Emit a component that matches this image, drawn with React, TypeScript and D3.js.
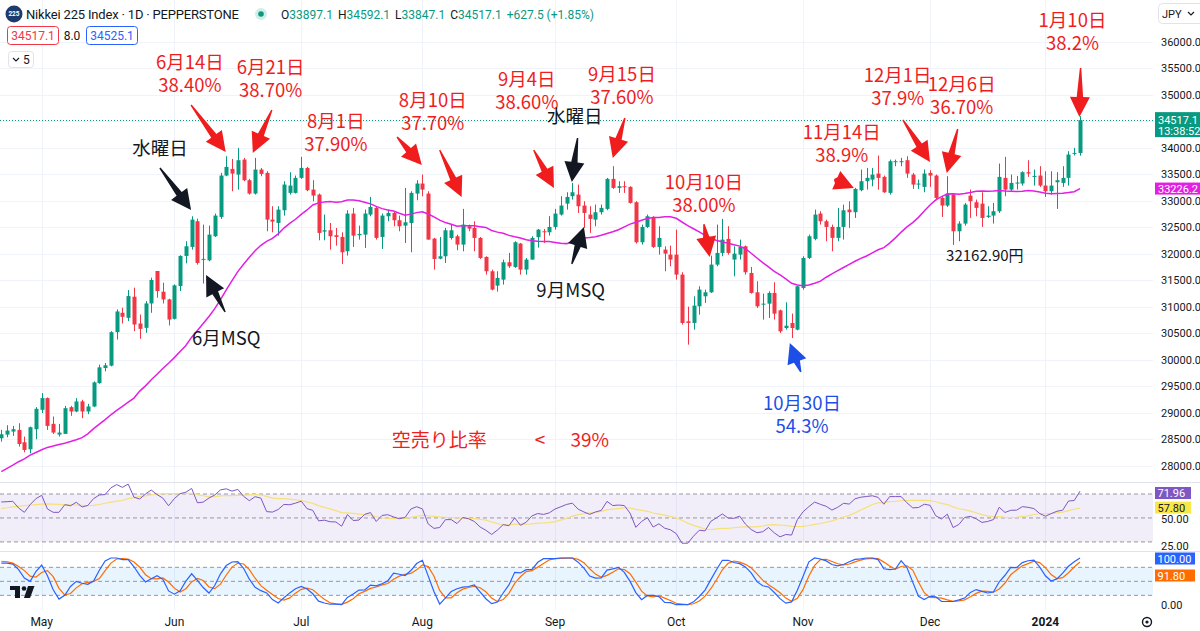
import React, { useRef, useEffect } from 'react';
import * as d3 from 'd3';

// Nikkei 225 CFD, daily bars 2023-04-20 .. 2024-01-10
const opens = [
  28517, 28587, 28644, 28675, 28442, 28309, 28688, 29054, 29275, 28789,
  28587, 28600, 29104, 29022, 29212, 29022, 29117, 29558, 29842, 29887,
  30518, 30884, 30789, 31187, 30682, 30600, 31060, 31672, 31281, 31136,
  30770, 31389, 31956, 32126, 32610, 31887, 31874, 32327, 32692, 33472,
  33597, 33490, 33773, 33384, 33132, 33585, 33522, 32641, 32578, 32818,
  33145, 33145, 33428, 33616, 33207, 33113, 32415, 32440, 32346, 32314,
  32044, 32755, 32346, 32358, 32736, 32862, 32314, 32704, 32767, 32629,
  32528, 32578, 33132, 33321, 33132, 32283, 31905, 31950, 32295, 32327,
  32170, 32515, 32484, 32296, 31937, 31667, 31396, 31509, 31837, 31748,
  32189, 31698, 31887, 32310, 32421, 32403, 32503, 32736, 32943, 33082,
  33113, 32906, 32736, 32641, 32780, 32843, 33409, 33239, 33270, 33258,
  32969, 32214, 32503, 32692, 32126, 32075, 31981, 31981, 31604, 30723,
  30692, 31006, 31195, 31270, 31792, 32013, 32277, 31887, 31981, 32138,
  31635, 31270, 31038, 31056, 31258, 30930, 30597, 30691, 30566, 31352,
  31918, 32277, 32755, 32610, 32503, 32296, 32503, 32830, 32780, 33195,
  33365, 33396, 33509, 33447, 33145, 33723, 33723, 33761, 33491, 33302,
  33258, 33522, 33472, 33050, 32906, 33113, 32421, 32566, 33094, 32969,
  32943, 32692, 32717, 32799, 33428, 33207, 33321, 33321, 33535, 33447,
  33472, 33283, 33176, 33346, 33333, 33428, 33887, 33897.1,
];
const highs = [
  28675, 28763, 28751, 28801, 28549, 28738, 29104, 29369, 29287, 28928,
  28789, 29129, 29129, 29275, 29243, 29167, 29590, 29906, 29937, 30537,
  30947, 30979, 31313, 31357, 30852, 31104, 31546, 31672, 31451, 31149,
  31420, 31969, 32233, 32704, 32660, 32547, 32528, 32755, 33522, 33836,
  33786, 33994, 33805, 33409, 33805, 33616, 33553, 32893, 32893, 33365,
  33534, 33472, 33824, 33635, 33384, 33132, 32736, 32578, 32484, 32402,
  32818, 32862, 32528, 32830, 33069, 32893, 32755, 32830, 32799, 32717,
  33239, 33176, 33384, 33491, 33176, 32296, 32314, 32484, 32547, 32358,
  32843, 32547, 32610, 32314, 31950, 31698, 31667, 31887, 32013, 32233,
  32201, 31918, 32327, 32465, 32465, 32705, 32843, 33082, 33157, 33333,
  33302, 32987, 32893, 32925, 32925, 33428, 33648, 33365, 33365, 33270,
  32987, 32547, 32736, 32704, 32516, 32138, 32150, 32452, 31648, 31000,
  31195, 31384, 31320, 31962, 32547, 32654, 32516, 32138, 32264, 32151,
  31748, 31478, 31245, 31289, 31459, 30943, 31082, 30868, 31396, 31950,
  32358, 32830, 32799, 32641, 32547, 32862, 32924, 32987, 33239, 33585,
  33616, 33616, 33849, 33472, 33773, 33773, 33805, 33836, 33522, 33396,
  33585, 33572, 33491, 33082, 33459, 33132, 32610, 32956, 33207, 33019,
  33157, 32893, 32956, 33698, 33824, 33491, 33465, 33553, 33761, 33585,
  33648, 33553, 33553, 33535, 33648, 33931, 33994, 34592.1,
];
const lows = [
  28454, 28536, 28562, 28360, 28252, 28233, 28498, 28991, 28675, 28600,
  28549, 28600, 28940, 29010, 28896, 28972, 29104, 29546, 29779, 29874,
  30379, 30682, 30726, 30537, 30392, 30505, 30884, 31168, 31060, 30644,
  30757, 31294, 31817, 32075, 31792, 31434, 31855, 32314, 32654, 33459,
  33176, 33207, 33365, 33113, 33113, 33459, 32421, 32402, 32339, 32717,
  33113, 33132, 33409, 33176, 32987, 32251, 32251, 32075, 32150, 31805,
  31962, 32126, 32264, 32107, 32704, 32264, 32088, 32610, 32515, 32421,
  32201, 32025, 33006, 33082, 32264, 31698, 31893, 31824, 32264, 32063,
  32044, 32421, 32044, 31899, 31604, 31308, 31283, 31415, 31730, 31730,
  31604, 31604, 31887, 32113, 32201, 32340, 32453, 32717, 32830, 33019,
  32767, 32484, 32390, 32515, 32736, 32818, 33220, 33145, 33145, 32943,
  32189, 32170, 32484, 32107, 31981, 31667, 31761, 31509, 30661, 30283,
  30566, 30849, 31069, 31258, 31761, 31950, 31981, 31572, 31887, 31604,
  31245, 30975, 30755, 30786, 30755, 30503, 30566, 30408, 30553, 31320,
  31899, 32251, 32547, 32233, 32044, 32233, 32264, 32484, 32673, 33176,
  33207, 33270, 33207, 33145, 33113, 33648, 33648, 33428, 33220, 33220,
  33157, 33258, 33006, 32692, 32880, 32163, 32233, 32528, 32673, 32704,
  32503, 32673, 32566, 32767, 33082, 33176, 33207, 33283, 33447, 33283,
  33258, 33069, 33113, 32843, 33258, 33283, 33849, 33847.1,
];
const closes = [
  28593, 28663, 28688, 28410, 28297, 28726, 29073, 29275, 28751, 28625,
  28625, 29085, 29022, 29212, 29022, 29117, 29571, 29855, 29893, 30518,
  30909, 30808, 31199, 30663, 30581, 31060, 31502, 31294, 31136, 30757,
  31401, 31956, 32138, 32641, 31824, 31900, 32358, 32717, 33472, 33635,
  33509, 33761, 33384, 33132, 33585, 33503, 32641, 32604, 32830, 33302,
  33283, 33428, 33616, 33195, 33094, 32390, 32440, 32327, 32314, 32025,
  32755, 32339, 32371, 32755, 32880, 32296, 32717, 32767, 32629, 32515,
  32591, 33145, 33321, 33207, 32264, 31899, 31950, 32440, 32440, 32170,
  32547, 32471, 32296, 31918, 31667, 31321, 31541, 31837, 31761, 32214,
  31698, 31887, 32296, 32452, 32402, 32503, 32755, 32906, 33069, 33157,
  32893, 32767, 32654, 32780, 32862, 33409, 33239, 33270, 33252, 32956,
  32214, 32503, 32704, 32126, 32296, 32000, 31887, 31604, 30692, 30692,
  31019, 31321, 31270, 31792, 32013, 32264, 32013, 32000, 32126, 31648,
  31258, 31006, 31056, 31258, 30868, 30534, 30641, 30597, 31383, 31918,
  32327, 32736, 32610, 32503, 32296, 32503, 32817, 32780, 33220, 33365,
  33428, 33490, 33428, 33157, 33742, 33742, 33742, 33509, 33302, 33321,
  33510, 33472, 33050, 32906, 33132, 32421, 32566, 32925, 32987, 32862,
  32673, 32717, 32799, 33447, 33207, 33333, 33340, 33535, 33510, 33465,
  33283, 33176, 33283, 33384, 33428, 33868, 33899, 34517.1,
];

// indicator values for the first bars, before enough history exists
const maLead = [
  27890, 27950, 28010, 28075, 28130, 28200, 28250, 28300, 28345, 28370, 28400, 28425,
  28455, 28490, 28530, 28600, 28700, 28785, 28870, 28960, 29045, 29120, 29200, 29275,
];
const rsiLead = [63.3, 63.6, 63.9, 58.3, 54.7, 61.1, 66.1, 68.9, 57.5, 54.7, 54.7, 61.1, 60.2, 63.1];
const rsiMaLead = [57.8, 58.5, 59.2, 59.8, 60.3, 60.8, 61.2, 61.6, 61.7, 61.6, 61.4, 61.2, 61.0];
const kLead = [89, 89, 87, 75, 57, 50, 71, 85, 62, 32, 12, 20, 39, 50, 46];
const dLead = [93, 92, 89, 82, 73, 61, 59, 69, 73, 60, 35, 21, 24, 36, 45, 48, 50];

// readouts shown in the legend / on the scales
const dayChange = '+627.5 (+1.85%)';
const spread = '8.0';
const askPrice = '34525.1';
const lastMa = '33226.2';
const rsiReadouts = ['71.96', '57.80'];
const stochReadouts = ['100.00', '91.80'];
const countdown = '13:38:52';

const priceTicks = d3.range(28000, 36001, 500);
const monthNames = ['Jan', 'Feb', 'Mar', 'Apr', 'May', 'Jun', 'Jul', 'Aug', 'Sep', 'Oct', 'Nov', 'Dec'];
const closedDays = ['2023-12-25', '2024-01-01'];

const RED = '#ef1d1d';
const BLUE = '#1d4ee8';
const INK = '#131722';

// callouts anchored in chart space: [bar index, price]
const notes = [
  { lines: ['6月14日', '38.40%'], color: RED, at: [32.7, 35613] },
  { lines: ['6月21日', '38.70%'], color: RED, at: [46.7, 35519] },
  { lines: ['水曜日'], color: INK, at: [27.5, 33991] },
  { lines: ['6月MSQ'], color: INK, at: [39.0, 30408] },
  { lines: ['8月1日', '37.90%'], color: RED, at: [58.0, 34482] },
  { lines: ['8月10日', '37.70%'], color: RED, at: [74.8, 34878] },
  { lines: ['9月4日', '38.60%'], color: RED, at: [91.1, 35274] },
  { lines: ['9月15日', '37.60%'], color: RED, at: [107.6, 35387] },
  { lines: ['水曜日'], color: INK, at: [99.4, 34595] },
  { lines: ['9月MSQ'], color: INK, at: [98.7, 31295] },
  { lines: ['10月10日', '38.00%'], color: RED, at: [121.8, 33350] },
  { lines: ['11月14日', '38.9%'], color: RED, at: [145.7, 34293] },
  { lines: ['12月1日', '37.9%'], color: RED, at: [155.4, 35368] },
  { lines: ['12月6日', '36.70%'], color: RED, at: [166.5, 35198] },
  { lines: ['1月10日', '38.2%'], color: RED, at: [185.7, 36405] },
  { lines: ['10月30日', '54.3%'], color: BLUE, at: [138.8, 29182] },
];
const lowNote = { text: '32162.90円', at: [170.5, 31955] };
const ratioNote = { parts: ['空売り比率', '<', '39%'], at: [67.7, 28484] };

const arrows = [
  { color: RED, from: [32.9, 34802], to: [38.9, 33916] },
  { color: RED, from: [46.9, 34708], to: [43.6, 33897] },
  { color: INK, from: [27.5, 33614], to: [32.9, 32822] },
  { color: INK, from: [38.8, 30898], to: [35.5, 31596] },
  { color: RED, from: [68.6, 34200], to: [72.9, 33671] },
  { color: RED, from: [76.0, 33954], to: [79.8, 33067] },
  { color: RED, from: [92.3, 33954], to: [95.8, 33237] },
  { color: INK, from: [99.9, 34180], to: [98.9, 33350] },
  { color: RED, from: [108.1, 34557], to: [106.0, 33803] },
  { color: INK, from: [98.9, 31804], to: [101.0, 32502] },
  { color: RED, from: [121.8, 32558], to: [122.8, 31936] },
  { color: RED, from: [144.4, 33400], to: [147.8, 33237] },
  { color: RED, from: [156.3, 34520], to: [161.0, 33727] },
  { color: RED, from: [165.8, 34350], to: [163.9, 33520] },
  { color: RED, from: [187.1, 35500], to: [186.9, 34576] },
  { color: BLUE, from: [138.6, 29767], to: [136.7, 30314] },
];

const GREEN = '#089981';
const DOWN = '#f23645';
const MAGENTA = '#e31fe3';
const UI_FONT = 'Roboto, "Noto Sans", sans-serif';
const JP_FONT = '"Noto Sans CJK JP", "Noto Sans", sans-serif';

function tradingDays(start: Date, count: number) {
  const out: Date[] = [];
  const d = new Date(start);
  while (out.length < count) {
    const key = d3.timeFormat('%Y-%m-%d')(d);
    if (d.getDay() !== 0 && d.getDay() !== 6 && !closedDays.includes(key)) out.push(new Date(d));
    d.setDate(d.getDate() + 1);
  }
  return out;
}

function sma(vals: number[], n: number, i: number) {
  return d3.mean(vals.slice(i - n + 1, i + 1)) as number;
}

function arrowPoints(x1: number, y1: number, x2: number, y2: number) {
  const dx = x2 - x1, dy = y2 - y1;
  const len = Math.hypot(dx, dy);
  const ux = dx / len, uy = dy / len, nx = -uy, ny = ux;
  const head = Math.min(20, len * 0.9);
  const bx = x2 - ux * head, by = y2 - uy * head;
  const hw = 10, sw = 3.2, tw = 0.7;
  return [
    [x1 + nx * tw, y1 + ny * tw],
    [bx + nx * sw, by + ny * sw],
    [bx + nx * hw, by + ny * hw],
    [x2, y2],
    [bx - nx * hw, by - ny * hw],
    [bx - nx * sw, by - ny * sw],
    [x1 - nx * tw, y1 - ny * tw],
  ];
}

const App: React.FC = () => {
  const svgRef = useRef<SVGSVGElement>(null);

  useEffect(() => {
    if (!svgRef.current) return;
    const svg = d3.select(svgRef.current);
    svg.selectAll('*').remove();

    const n = closes.length;
    const dates = tradingDays(new Date(2023, 3, 20), n);
    const paneRight = 1153;

    const x = d3.scaleLinear().domain([0, n - 1]).range([1.3, 1080]);
    const y = d3.scaleLinear().domain([28000, 36000]).range([465.7, 41.5]);
    const rsiY = d3.scaleLinear().domain([30, 70]).range([541.9, 494]);
    const stY = d3.scaleLinear().domain([0, 100]).range([604.7, 558]);

    // --- indicators ---
    const ma = closes.map((_, i) => (i < 24 ? maLead[i] : sma(closes, 25, i)));

    const rsi = [...rsiLead];
    const moves = d3.range(1, rsiLead.length).map(k => Math.abs(closes[k] - closes[k - 1]));
    const m = d3.mean(moves) as number;
    const r0 = rsiLead[rsiLead.length - 1] / 100;
    let avgG = m * r0, avgL = m * (1 - r0);
    for (let i = rsiLead.length; i < n; i++) {
      const ch = closes[i] - closes[i - 1];
      avgG = (avgG * 13 + Math.max(ch, 0)) / 14;
      avgL = (avgL * 13 + Math.max(-ch, 0)) / 14;
      rsi.push(100 - 100 / (1 + avgG / avgL));
    }
    const rsiMa = rsi.map((_, i) => (i < 13 ? rsiMaLead[i] : sma(rsi, 14, i)));
    const raw = rsi.map((v, i) => {
      if (i < 13) return 50;
      const w = rsi.slice(i - 13, i + 1);
      const lo = d3.min(w) as number, hi = d3.max(w) as number;
      return hi > lo ? ((v - lo) / (hi - lo)) * 100 : 100;
    });
    const kLine = raw.map((_, i) => (i < kLead.length ? kLead[i] : sma(raw, 3, i)));
    const dLine = kLine.map((_, i) => (i < dLead.length ? dLead[i] : sma(kLine, 3, i)));

    const defs = svg.append('defs');
    defs.append('clipPath').attr('id', 'clipMain').append('rect').attr('x', 0).attr('y', 0).attr('width', paneRight).attr('height', 482);
    defs.append('clipPath').attr('id', 'clipRsi').append('rect').attr('x', 0).attr('y', 483).attr('width', paneRight).attr('height', 68);
    defs.append('clipPath').attr('id', 'clipSto').append('rect').attr('x', 0).attr('y', 552).attr('width', paneRight).attr('height', 58);

    svg.append('rect').attr('width', 1200).attr('height', 631).attr('fill', '#ffffff');

    // --- grid ---
    const monthStarts = dates
      .map((d, i) => ({ d, i }))
      .filter(({ d, i }) => i > 0 && d.getMonth() !== dates[i - 1].getMonth());
    const grid = svg.append('g');
    grid.selectAll('line.v').data(monthStarts).enter().append('line')
      .attr('x1', d => Math.round(x(d.i)) + 0.5).attr('x2', d => Math.round(x(d.i)) + 0.5)
      .attr('y1', 0).attr('y2', 610).attr('stroke', '#f0f3fa').attr('stroke-width', 1);
    grid.selectAll('line.h').data(priceTicks).enter().append('line')
      .attr('x1', 0).attr('x2', paneRight)
      .attr('y1', d => Math.round(y(d)) + 0.5).attr('y2', d => Math.round(y(d)) + 0.5)
      .attr('stroke', '#f0f3fa').attr('stroke-width', 1);

    // pane separators
    [482.5, 551.5].forEach(v => {
      svg.append('line').attr('x1', 0).attr('x2', 1200).attr('y1', v).attr('y2', v).attr('stroke', '#e0e3eb');
    });

    // --- main pane ---
    const main = svg.append('g').attr('clip-path', 'url(#clipMain)');
    const idx = d3.range(n);
    const bars = main.selectAll('g.bar').data(idx).enter().append('g');
    bars.append('line')
      .attr('x1', i => Math.round(x(i)) + 0.5).attr('x2', i => Math.round(x(i)) + 0.5)
      .attr('y1', i => y(highs[i])).attr('y2', i => y(lows[i]))
      .attr('stroke', i => (closes[i] >= opens[i] ? GREEN : DOWN)).attr('stroke-width', 1);
    bars.append('rect')
      .attr('x', i => Math.round(x(i)) - 1.5)
      .attr('y', i => y(Math.max(opens[i], closes[i])))
      .attr('width', 4)
      .attr('height', i => Math.max(1, Math.abs(y(opens[i]) - y(closes[i]))))
      .attr('fill', i => (closes[i] >= opens[i] ? GREEN : DOWN));

    main.append('path')
      .attr('d', d3.line<number>().x((_, i) => x(i)).y(v => y(v))(ma))
      .attr('fill', 'none').attr('stroke', MAGENTA).attr('stroke-width', 1.5);

    const lastY = y(closes[n - 1]);
    main.append('line').attr('x1', 0).attr('x2', paneRight).attr('y1', Math.round(lastY) + 0.5).attr('y2', Math.round(lastY) + 0.5)
      .attr('stroke', GREEN).attr('stroke-dasharray', '1 2');

    // --- RSI pane ---
    const rp = svg.append('g').attr('clip-path', 'url(#clipRsi)');
    rp.append('rect').attr('x', 0).attr('width', paneRight).attr('y', rsiY(70)).attr('height', rsiY(30) - rsiY(70))
      .attr('fill', 'rgba(126,87,194,0.1)');
    [70, 50, 30].forEach(v => {
      rp.append('line').attr('x1', 0).attr('x2', paneRight).attr('y1', rsiY(v)).attr('y2', rsiY(v))
        .attr('stroke', '#9598a1').attr('stroke-dasharray', '4 3');
    });
    rp.append('path').attr('d', d3.line<number>().x((_, i) => x(i)).y(v => rsiY(v))(rsiMa))
      .attr('fill', 'none').attr('stroke', '#f5e07a').attr('stroke-width', 1.2);
    rp.append('path').attr('d', d3.line<number>().x((_, i) => x(i)).y(v => rsiY(v))(rsi))
      .attr('fill', 'none').attr('stroke', '#7e57c2').attr('stroke-width', 1);

    // --- Stoch RSI pane ---
    const sp = svg.append('g').attr('clip-path', 'url(#clipSto)');
    sp.append('rect').attr('x', 0).attr('width', paneRight).attr('y', stY(80)).attr('height', stY(20) - stY(80))
      .attr('fill', 'rgba(33,150,243,0.1)');
    [80, 50, 20].forEach(v => {
      sp.append('line').attr('x1', 0).attr('x2', paneRight).attr('y1', stY(v)).attr('y2', stY(v))
        .attr('stroke', '#9598a1').attr('stroke-dasharray', '4 3');
    });
    sp.append('path').attr('d', d3.line<number>().x((_, i) => x(i)).y(v => stY(v))(dLine))
      .attr('fill', 'none').attr('stroke', '#ff6d00').attr('stroke-width', 1.2);
    sp.append('path').attr('d', d3.line<number>().x((_, i) => x(i)).y(v => stY(v))(kLine))
      .attr('fill', 'none').attr('stroke', '#2962ff').attr('stroke-width', 1.2);

    // --- price scale ---
    const ax = svg.append('g').attr('font-family', UI_FONT).attr('font-size', 11).attr('fill', INK);
    const maY = y(ma[n - 1]);
    ax.selectAll('text.p').data(priceTicks.filter(t => Math.abs(y(t) - lastY) > 12)).enter().append('text')
      .attr('x', 1161).attr('y', t => y(t) + 4).text(t => t.toFixed(1));

    ax.append('rect').attr('x', 1155).attr('y', lastY - 8).attr('width', 45).attr('height', 25).attr('fill', GREEN);
    ax.append('text').attr('x', 1158).attr('y', lastY + 3.5).attr('fill', '#fff').text(closes[n - 1].toFixed(1));
    ax.append('text').attr('x', 1158).attr('y', lastY + 14.5).attr('fill', '#fff').text(countdown);
    ax.append('rect').attr('x', 1155).attr('y', maY - 6).attr('width', 45).attr('height', 12).attr('fill', MAGENTA);
    ax.append('text').attr('x', 1158).attr('y', maY + 4).attr('fill', '#fff').text(lastMa);

    // currency button
    ax.append('rect').attr('x', 1158.5).attr('y', 3.5).attr('width', 48).attr('height', 20).attr('rx', 4)
      .attr('fill', '#fff').attr('stroke', '#e0e3eb');
    ax.append('text').attr('x', 1162).attr('y', 17.5).text('JPY');
    ax.append('path').attr('d', 'M1188,12 l3,3 l3,-3').attr('fill', 'none').attr('stroke', INK).attr('stroke-width', 1.1);

    // RSI scale
    const rBox = (txt: string, cy: number, fill: string, color: string, w = 36) => {
      ax.append('rect').attr('x', 1155).attr('y', cy - 6).attr('width', w).attr('height', 12).attr('fill', fill);
      ax.append('text').attr('x', 1157.5).attr('y', cy + 4).attr('fill', color).text(txt);
    };
    ax.append('text').attr('x', 1161).attr('y', rsiY(50) + 5).text('50.00');
    ax.append('text').attr('x', 1161).attr('y', 550).text('25.00');
    rBox(rsiReadouts[0], Math.max(493, rsiY(+rsiReadouts[0])), '#7e57c2', '#fff');
    rBox(rsiReadouts[1], rsiY(+rsiReadouts[1]) - 1, '#f7e849', INK);
    // Stoch scale
    const kCy = Math.max(558.5, stY(+stochReadouts[0]));
    rBox(stochReadouts[0], kCy, '#2962ff', '#fff', 40);
    rBox(stochReadouts[1], Math.max(stY(+stochReadouts[1]), kCy + 17), '#ff6d00', '#fff', 40);
    ax.append('text').attr('x', 1161).attr('y', stY(0) + 4).text('0.00');

    // --- time axis ---
    const tf = svg.append('g').attr('font-family', UI_FONT).attr('font-size', 12).attr('fill', INK).attr('text-anchor', 'middle');
    tf.selectAll('text').data(monthStarts).enter().append('text')
      .attr('x', t => x(t.i)).attr('y', 626)
      .attr('font-weight', t => (t.d.getMonth() === 0 ? 700 : 400))
      .text(t => (t.d.getMonth() === 0 ? String(t.d.getFullYear()) : monthNames[t.d.getMonth()]));
    // settings gear
    svg.append('circle').attr('cx', 1147).attr('cy', 622).attr('r', 4.5).attr('fill', 'none').attr('stroke', INK).attr('stroke-width', 1.4);
    svg.append('circle').attr('cx', 1147).attr('cy', 622).attr('r', 1.6).attr('fill', INK);

    // TradingView mark
    const tv = svg.append('g').attr('fill', INK);
    tv.append('rect').attr('x', 10).attr('y', 586).attr('width', 10).attr('height', 4);
    tv.append('rect').attr('x', 15).attr('y', 586).attr('width', 5).attr('height', 12);
    tv.append('circle').attr('cx', 24).attr('cy', 588.5).attr('r', 2.3);
    tv.append('path').attr('d', 'M28,586 L34.5,586 L30,598 L24,598 Z');

    // --- callouts ---
    const ann = svg.append('g').attr('font-family', JP_FONT).attr('text-anchor', 'middle');
    arrows.forEach(a => {
      const pts = arrowPoints(x(a.from[0]), y(a.from[1]), x(a.to[0]), y(a.to[1]));
      ann.append('polygon').attr('points', pts.map(p => p.join(',')).join(' ')).attr('fill', a.color);
    });
    notes.forEach(nt => {
      nt.lines.forEach((ln, k) => {
        ann.append('text').attr('font-size', 18.5).attr('fill', nt.color)
          .attr('x', x(nt.at[0])).attr('y', y(nt.at[1]) + 6.5 + k * 23).text(ln);
      });
    });
    ann.append('text').attr('font-size', 15).attr('fill', INK)
      .attr('x', x(lowNote.at[0])).attr('y', y(lowNote.at[1]) + 5.5).text(lowNote.text);
    const rt = ann.append('text').attr('font-size', 19).attr('fill', RED).attr('text-anchor', 'start')
      .attr('x', x(ratioNote.at[0])).attr('y', y(ratioNote.at[1]) + 7);
    rt.append('tspan').text(ratioNote.parts[0]);
    rt.append('tspan').attr('dx', 48).text(ratioNote.parts[1]);
    rt.append('tspan').attr('dx', 25).text(ratioNote.parts[2]);

    // --- legend ---
    const lg = svg.append('g').attr('font-family', UI_FONT).attr('fill', INK);
    lg.append('circle').attr('cx', 14).attr('cy', 14).attr('r', 8.5).attr('fill', '#1d3b6d');
    lg.append('text').attr('x', 14).attr('y', 16.3).attr('text-anchor', 'middle').attr('font-size', 6.5)
      .attr('font-weight', 700).attr('fill', '#fff').text('225');
    lg.append('text').attr('x', 26).attr('y', 19).attr('font-size', 13).attr('textLength', 213).text('Nikkei 225 Index · 1D · PEPPERSTONE');
    lg.append('circle').attr('cx', 261).attr('cy', 14).attr('r', 6).attr('fill', GREEN).attr('opacity', 0.18);
    lg.append('circle').attr('cx', 261).attr('cy', 14).attr('r', 2.8).attr('fill', GREEN);
    const ohlc = lg.append('text').attr('x', 281).attr('y', 18.5).attr('font-size', 12);
    [['O', opens[n - 1]], ['H', highs[n - 1]], ['L', lows[n - 1]], ['C', closes[n - 1]]].forEach(([k, v], j) => {
      ohlc.append('tspan').attr('dx', j ? 5 : 0).text(String(k));
      ohlc.append('tspan').attr('fill', GREEN).text((v as number).toFixed(1));
    });
    ohlc.append('tspan').attr('dx', 5).attr('fill', GREEN).text(dayChange);

    const chip = (x0: number, w: number, stroke: string, txt: string) => {
      lg.append('rect').attr('x', x0 + 0.5).attr('y', 26.5).attr('width', w).attr('height', 18).attr('rx', 3)
        .attr('fill', '#fff').attr('stroke', stroke);
      lg.append('text').attr('x', x0 + w / 2 + 0.5).attr('y', 40).attr('text-anchor', 'middle').attr('font-size', 12)
        .attr('fill', stroke).text(txt);
    };
    chip(7, 51, DOWN, closes[n - 1].toFixed(1));
    lg.append('text').attr('x', 72).attr('y', 40).attr('text-anchor', 'middle').attr('font-size', 12).text(spread);
    chip(86, 51, '#2962ff', askPrice);
    lg.append('rect').attr('x', 8.5).attr('y', 51.5).attr('width', 25).attr('height', 16).attr('rx', 3)
      .attr('fill', '#fff').attr('stroke', '#e0e3eb');
    lg.append('path').attr('d', 'M13,58 l3,3 l3,-3').attr('fill', 'none').attr('stroke', INK).attr('stroke-width', 1.1);
    lg.append('text').attr('x', 23).attr('y', 64).attr('font-size', 12).text('5');
  }, []);

  return (
    <svg
      ref={svgRef}
      width={1200}
      height={631}
      viewBox="0 0 1200 631"
      style={{ position: 'absolute', left: 0, top: 0, display: 'block' }}
    />
  );
};

export default App;
